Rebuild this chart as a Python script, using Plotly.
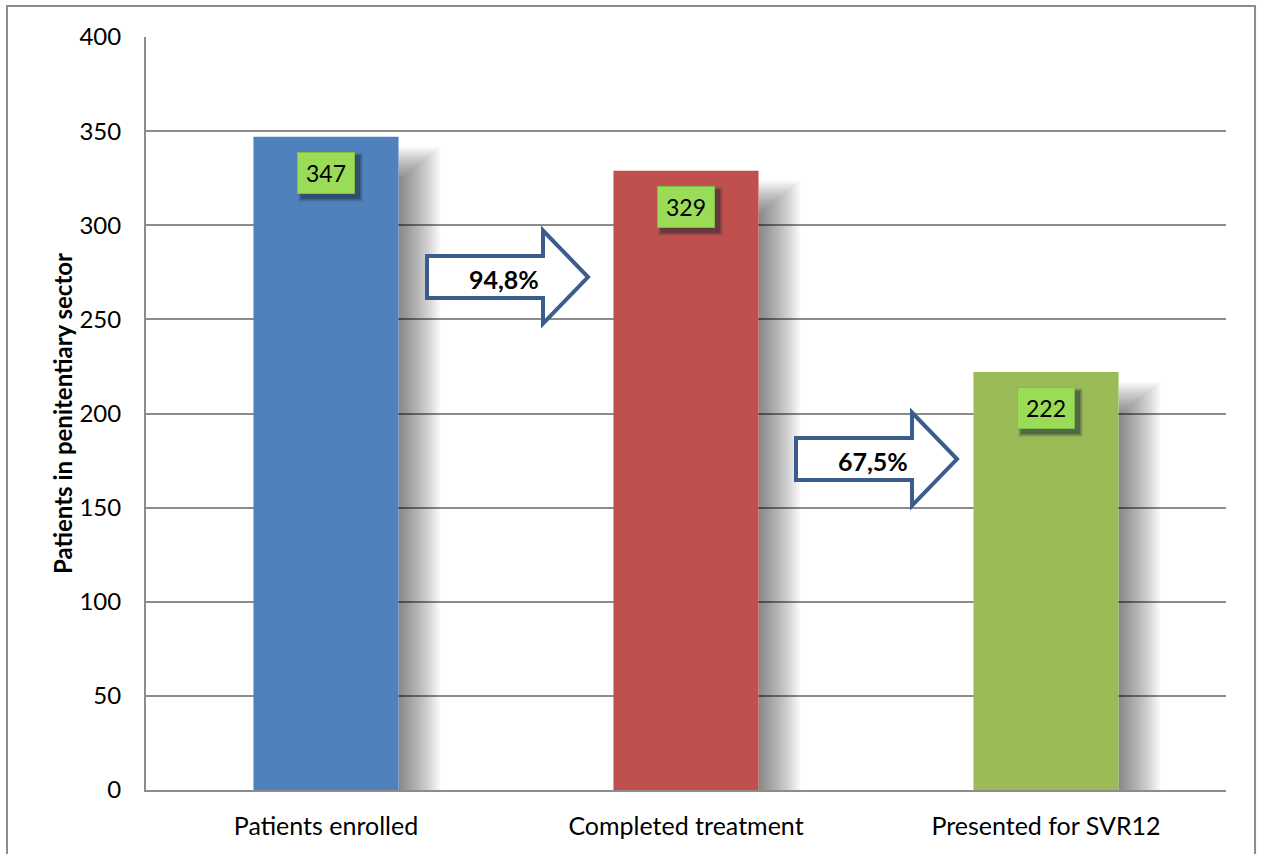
import plotly.graph_objects as go

# --- data -------------------------------------------------------------
categories = ["Patients enrolled", "Completed treatment", "Presented for SVR12"]
patients = [347, 329, 222]
bar_colors = ["#4F81BD", "#C0504D", "#9BBB59"]

y_ticks = [0, 50, 100, 150, 200, 250, 300, 350, 400]

# vertical placement (in patients) of the transition arrows between bars
arrow_levels = [272.5, 175.8]
arrow_pixel_shift = [-2, 7]

FONT = "Lato"
BAR_WIDTH = 0.403
ARROW_COLOR = "#3A5D8C"
PX_PER_UNIT = 753 / 400  # plot height in px over y range

x_pos = list(range(len(categories)))

fig = go.Figure()
fig.add_trace(go.Bar(
    x=x_pos, y=patients, width=BAR_WIDTH,
    marker=dict(color=bar_colors, line=dict(width=0)),
    hoverinfo="skip", showlegend=False,
))

shapes = []
annotations = []

# soft shadow on the right side of each bar (nested translucent layers)
half_px = BAR_WIDTH * 360 / 2
N_LAYERS = 20
for i, v in enumerate(patients):
    for k in range(1, N_LAYERS + 1):
        f = k / N_LAYERS
        top = v - (44 - 34 * f) / PX_PER_UNIT
        shapes.append(dict(
            type="rect", layer="between",
            xref="x", yref="y", xsizemode="pixel", xanchor=i,
            x0=half_px, x1=half_px + 42 * f,
            y0=0, y1=top,
            fillcolor="rgba(0,0,0,0.026)", line=dict(width=0),
        ))

# value boxes near the top of each bar
for i, v in enumerate(patients):
    for grow, op in [(3, 0.10), (2, 0.14), (1, 0.2), (0, 0.28)]:
        shapes.append(dict(
            type="rect", layer="above",
            xref="x", yref="y", xsizemode="pixel", ysizemode="pixel",
            xanchor=i, yanchor=v,
            x0=-25 - grow, x1=34 + grow, y0=-62 - grow, y1=-19 + grow,
            fillcolor=f"rgba(30,40,50,{op})", line=dict(width=0),
        ))
    annotations.append(dict(
        x=i, y=v, xref="x", yref="y", yshift=-36,
        text=str(v), showarrow=False,
        font=dict(family=FONT, size=23, color="#000000"),
        bgcolor="#9ADB58", bordercolor="#7FBF45", borderwidth=1,
        borderpad=0, width=56, height=40, align="center", valign="middle",
    ))

# transition arrows with the retention percentage
for j, (lvl, shift) in enumerate(zip(arrow_levels, arrow_pixel_shift)):
    xl, xb, xt = -77 + shift, 39 + shift, 84 + shift
    bh, hh = 21, 46.5
    path = (f"M {xl},{bh} L {xb},{bh} L {xb},{hh} L {xt},0 "
            f"L {xb},{-hh} L {xb},{-bh} L {xl},{-bh} Z")
    shapes.append(dict(
        type="path", layer="above", path=path,
        xref="x", yref="y", xsizemode="pixel", ysizemode="pixel",
        xanchor=j + 0.5, yanchor=lvl,
        fillcolor="#FFFFFF", line=dict(color=ARROW_COLOR, width=4),
    ))
    pct = patients[j + 1] / patients[j] * 100
    annotations.append(dict(
        x=j + 0.5, y=lvl, xref="x", yref="y", xshift=shift, yshift=-2,
        text=f"<b>{pct:.1f}%</b>".replace(".", ","), showarrow=False,
        font=dict(family=FONT, size=25, color="#000000"),
    ))

# outer chart frame
shapes.append(dict(
    type="rect", xref="paper", yref="paper",
    x0=-0.1287, x1=1.0269, y0=-0.12, y1=1.0412,
    line=dict(color="#8C8C8C", width=2), fillcolor="rgba(0,0,0,0)", layer="below",
))

fig.update_layout(
    width=1261, height=854,
    margin=dict(l=146, r=35, t=37, b=64),
    paper_bgcolor="#FFFFFF", plot_bgcolor="#FFFFFF",
    font=dict(family=FONT, size=24, color="#000000"),
    shapes=shapes, annotations=annotations,
    bargap=0.6,
)
fig.update_xaxes(
    range=[-0.5, 2.5], tickvals=x_pos, ticktext=categories,
    showgrid=False, zeroline=False, showline=True, linecolor="#8C8C8C", linewidth=2,
    ticks="", ticklabelstandoff=13, tickfont=dict(family=FONT, size=25),
    fixedrange=True,
)
fig.update_yaxes(
    range=[0, 400], tickvals=y_ticks,
    showgrid=True, gridcolor="#8C8C8C", gridwidth=1.6,
    zeroline=False, showline=True, linecolor="#8C8C8C", linewidth=2,
    ticks="", ticklabelstandoff=18, tickfont=dict(family=FONT, size=24),
    title=dict(text="<b>Patients in penitentiary sector</b>",
               font=dict(family=FONT, size=24), standoff=0),
    fixedrange=True,
)

fig.write_html("out.html", config={"displayModeBar": False})
